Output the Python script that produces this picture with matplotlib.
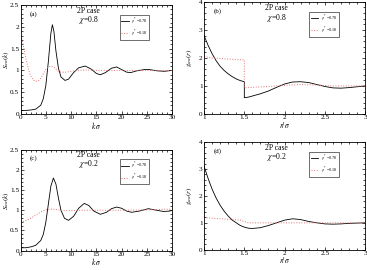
import numpy as np
import matplotlib.pyplot as plt
from matplotlib.ticker import MultipleLocator

plt.rcParams['font.family'] = ['Liberation Serif', 'DejaVu Serif']
plt.rcParams['mathtext.fontset'] = 'stix'

# panel (a): structure factor, chi=0.8
ka_hi = [0, 1, 2, 3, 4, 4.5, 5, 5.5, 6, 6.3, 6.6, 7, 7.5, 8, 8.8, 9.5, 10.5, 11.5, 12.8, 14, 15, 15.8,
         16.8, 18, 19, 20, 21, 21.8, 23, 24.5, 25.5, 27, 28.5, 30]
sa_hi = [0.08, 0.08, 0.09, 0.11, 0.2, 0.35, 0.65, 1.2, 1.85, 2.05, 1.9, 1.45, 1.05, 0.85, 0.77, 0.8, 0.95,
         1.06, 1.1, 1.03, 0.93, 0.9, 0.95, 1.05, 1.08, 1.02, 0.96, 0.95, 0.99, 1.02, 1.02, 0.99, 0.98, 1.0]
ka_lo = [0, 0.5, 1, 1.5, 2, 2.5, 3, 3.5, 4, 4.5, 5, 5.5, 6, 6.5, 7, 7.5, 8, 9, 10, 11, 13, 15, 20, 25, 30]
sa_lo = [1.85, 1.6, 1.3, 1.05, 0.88, 0.78, 0.75, 0.76, 0.82, 0.92, 1.02, 1.08, 1.1, 1.08, 1.03, 0.98,
         0.96, 0.96, 0.98, 1.0, 1.01, 1.0, 1.0, 1.0, 1.0]

# panel (c): structure factor, chi=0.2
kc_hi = [0, 1, 2, 3, 4, 4.5, 5, 5.5, 6, 6.5, 7, 7.5, 8, 8.7, 9.5, 10.5, 11.5, 12.6, 13.5, 14.5, 15.8,
         17, 18, 19, 20, 21, 22, 23.5, 25.3, 26.5, 28.3, 29.5, 30]
sc_hi = [0.07, 0.07, 0.09, 0.13, 0.25, 0.4, 0.7, 1.15, 1.6, 1.8, 1.65, 1.3, 1.0, 0.8, 0.75, 0.85, 1.05,
         1.17, 1.12, 0.98, 0.9, 0.95, 1.04, 1.08, 1.05, 0.98, 0.95, 0.98, 1.04, 1.01, 0.97, 0.98, 1.0]
kc_lo = [0, 1, 2, 3, 4, 5, 6, 7, 8, 9, 10, 12, 15, 20, 25, 30]
sc_lo = [0.7, 0.74, 0.8, 0.88, 0.96, 1.01, 1.03, 1.02, 1.0, 0.99, 0.99, 1.0, 1.0, 1.0, 1.01, 1.03]

# panel (b): pair distribution, chi=0.8
rb_hi = [1.0, 1.05, 1.1, 1.15, 1.2, 1.25, 1.3, 1.35, 1.4, 1.45, 1.5, 1.5, 1.55, 1.6, 1.7, 1.8, 1.9, 2.0,
         2.1, 2.2, 2.3, 2.4, 2.5, 2.6, 2.7, 2.8, 2.9, 3.0]
gb_hi = [2.8, 2.45, 2.15, 1.9, 1.7, 1.55, 1.43, 1.33, 1.25, 1.19, 1.15, 0.58, 0.6, 0.64, 0.72, 0.82, 0.95,
         1.07, 1.14, 1.15, 1.12, 1.05, 0.98, 0.93, 0.92, 0.94, 0.97, 1.0]
rb_lo = [1.0, 1.1, 1.2, 1.3, 1.4, 1.5, 1.5, 1.6, 1.8, 2.0, 2.2, 2.4, 2.6, 2.8, 3.0]
gb_lo = [2.05, 2.0, 1.98, 1.96, 1.94, 1.93, 0.93, 0.95, 0.98, 1.02, 1.05, 1.03, 1.0, 1.0, 1.0]

# panel (d): pair distribution, chi=0.2
rd_hi = [1.0, 1.05, 1.1, 1.15, 1.2, 1.25, 1.3, 1.35, 1.4, 1.45, 1.5, 1.55, 1.6, 1.7, 1.8, 1.9, 2.0, 2.1,
         2.2, 2.3, 2.4, 2.5, 2.6, 2.7, 2.8, 2.9, 3.0]
gd_hi = [3.1, 2.65, 2.25, 1.92, 1.65, 1.43, 1.25, 1.1, 1.0, 0.9, 0.84, 0.8, 0.79, 0.82, 0.9, 1.0, 1.1,
         1.15, 1.12, 1.05, 1.0, 0.96, 0.95, 0.96, 0.98, 0.99, 1.0]
rd_lo = [1.0, 1.1, 1.2, 1.3, 1.4, 1.45, 1.5, 1.55, 1.7, 2.0, 2.5, 3.0]
gd_lo = [1.2, 1.17, 1.15, 1.13, 1.11, 1.1, 1.05, 1.0, 1.0, 1.0, 1.0, 1.0]

labels = [r"$\rho^*$=0.78", r"$\rho^*$=0.18"]
red = "#e57373"

fig = plt.figure(figsize=(3.67, 2.70), dpi=100)

axa = fig.add_axes([0.056, 0.578, 0.413, 0.403])
axb = fig.add_axes([0.556, 0.578, 0.439, 0.415])
axc = fig.add_axes([0.056, 0.072, 0.413, 0.373])
axd = fig.add_axes([0.556, 0.075, 0.439, 0.399])


def style(ax, tag, chi, xlab, ylab, ylx):
    ax.tick_params(direction='in', which='both', top=True, right=True, labelsize=5.2, pad=1,
                   length=2.5, width=0.5)
    ax.tick_params(which='minor', length=1.3)
    for s in ax.spines.values():
        s.set_linewidth(0.6)
    ax.text(0.06, 0.92, tag, transform=ax.transAxes, fontsize=5, va='center')
    ax.text(0.45, 0.945, "2P case", transform=ax.transAxes, fontsize=5.5, ha='center', va='center')
    ax.text(0.45, 0.86, chi, transform=ax.transAxes, fontsize=5.5, ha='center', va='center')
    ax.set_xlabel(xlab, fontsize=5.5, labelpad=-0.5)
    ax.set_ylabel(ylab, fontsize=5)
    ax.yaxis.set_label_coords(ylx, 0.5)
    leg = ax.legend(loc='upper left', bbox_to_anchor=(0.64, 0.93), fontsize=3.0, frameon=True,
                    fancybox=False, edgecolor='black', handlelength=1.8, borderpad=0.35,
                    labelspacing=0.35, handletextpad=0.6)
    leg.get_frame().set_linewidth(0.5)


for ax, xh, yh, xl, yl in [(axa, ka_hi, sa_hi, ka_lo, sa_lo), (axc, kc_hi, sc_hi, kc_lo, sc_lo)]:
    ax.plot(xh, yh, color='black', lw=0.6, label=labels[0])
    ax.plot(xl, yl, color=red, lw=0.7, ls=':', label=labels[1])
    ax.set_xlim(0, 30)
    ax.set_ylim(0, 2.5)
    ax.xaxis.set_major_locator(MultipleLocator(5))
    ax.xaxis.set_minor_locator(MultipleLocator(1))
    ax.yaxis.set_minor_locator(MultipleLocator(0.1))
    ax.set_yticks([0, 0.5, 1, 1.5, 2, 2.5])
    ax.set_yticklabels(["0", "0.5", "1", "1.5", "2", "2.5"])

for ax, xh, yh, xl, yl in [(axb, rb_hi, gb_hi, rb_lo, gb_lo), (axd, rd_hi, gd_hi, rd_lo, gd_lo)]:
    ax.plot(xh, yh, color='black', lw=0.6, label=labels[0])
    ax.plot(xl, yl, color=red, lw=0.7, ls=':', label=labels[1])
    ax.set_xlim(1, 3)
    ax.set_ylim(0, 4)
    ax.xaxis.set_minor_locator(MultipleLocator(0.1))
    ax.yaxis.set_major_locator(MultipleLocator(1))
    ax.yaxis.set_minor_locator(MultipleLocator(0.2))
    ax.set_xticks([1, 1.5, 2, 2.5, 3])
    ax.set_xticklabels(["1", "1.5", "2", "2.5", "3"])

style(axa, "(a)", r"$\chi$=0.8", r"$k\,\sigma$", r"$S_{\alpha\alpha}(k)$", -0.066)
style(axb, "(b)", r"$\chi$=0.8", r"$r/\sigma$", r"$g_{\alpha\alpha}(r)$", -0.06)
style(axc, "(c)", r"$\chi$=0.2", r"$k\,\sigma$", r"$S_{\alpha\alpha}(k)$", -0.066)
style(axd, "(d)", r"$\chi$=0.2", r"$r/\sigma$", r"$g_{\alpha\alpha}(r)$", -0.06)

fig.savefig("out.png", dpi=100)
